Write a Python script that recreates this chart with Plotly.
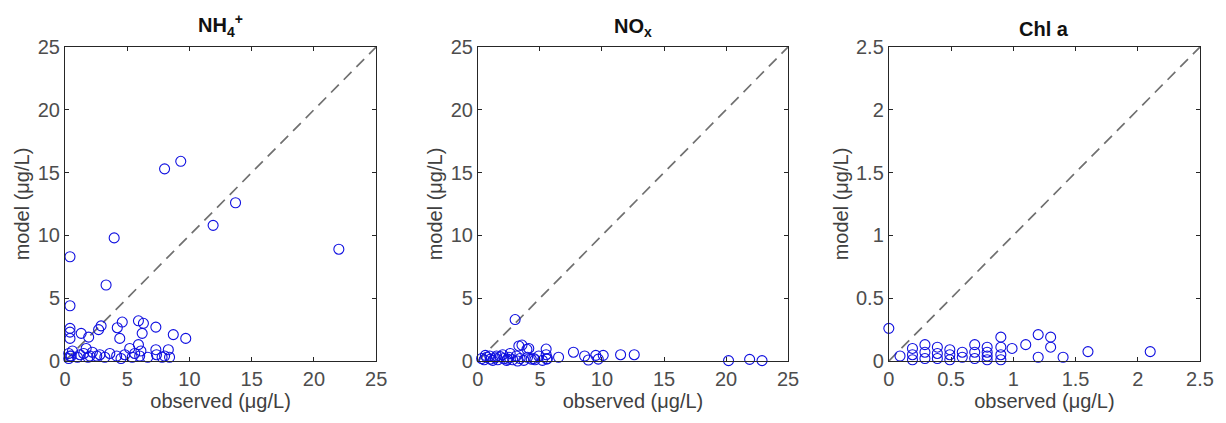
import plotly.graph_objects as go

# ---------------- data ----------------
nh4_obs = [8.0, 9.3, 13.7, 11.9, 3.95, 22.0, 0.4, 3.3, 0.4, 0.4, 0.4, 0.4, 1.3, 1.9, 2.7, 2.9,
           4.2, 4.6, 5.9, 6.3, 6.2, 7.3, 4.4, 8.7, 9.7, 5.9, 5.2, 7.3, 8.3, 0.4, 1.2, 1.85,
           2.55, 3.2, 4.15, 4.8, 5.4, 6.0, 6.65, 7.35, 8.0, 8.4, 0.3, 0.3, 0.5, 0.6, 1.0, 1.5,
           2.0, 2.2, 2.8, 3.6, 4.5, 5.6, 6.1, 7.8, 1.7]
nh4_mod = [15.3, 15.9, 12.6, 10.8, 9.8, 8.9, 8.3, 6.05, 4.4, 2.6, 2.3, 1.8, 2.2, 1.9, 2.5, 2.8,
           2.65, 3.1, 3.2, 3.0, 2.2, 2.7, 1.8, 2.1, 1.8, 1.3, 1.0, 0.9, 0.9, 0.4, 0.5, 0.3,
           0.4, 0.3, 0.4, 0.5, 0.3, 0.4, 0.3, 0.5, 0.4, 0.3, 0.2, 0.6, 0.4, 0.8, 0.3, 0.6,
           0.4, 0.7, 0.5, 0.6, 0.2, 0.6, 0.8, 0.3, 1.0]

nox_obs = [3.0, 3.55, 3.95, 3.3, 4.1, 5.5, 7.7, 8.6, 9.5, 10.1, 11.5, 12.6, 6.5, 5.55, 8.9, 9.7,
           20.2, 21.9, 22.9, 2.6, 2.0, 0.95, 0.3, 0.5, 0.7, 1.0, 1.2, 1.4, 1.6, 1.8, 2.1, 2.3,
           2.5, 2.8, 3.1, 3.4, 3.7, 4.0, 4.3, 4.6, 4.9, 5.2, 5.6, 0.6, 1.5, 2.4, 3.2, 4.5, 5.5]
nox_mod = [3.3, 1.27, 0.93, 1.2, 1.0, 0.95, 0.7, 0.4, 0.45, 0.45, 0.5, 0.5, 0.3, 0.15, 0.08, 0.15,
           0.03, 0.13, 0.03, 0.6, 0.5, 0.4, 0.2, 0.1, 0.3, 0.15, 0.05, 0.25, 0.1, 0.35, 0.2, 0.05,
           0.3, 0.1, 0.4, 0.2, 0.05, 0.3, 0.15, 0.1, 0.4, 0.05, 0.2, 0.45, 0.4, 0.15, 0.0, 0.2, 0.5]

chl_obs = [0.0, 0.09, 0.19, 0.19, 0.19, 0.29, 0.29, 0.29, 0.39, 0.39, 0.39, 0.49, 0.49, 0.49,
           0.59, 0.59, 0.69, 0.69, 0.69, 0.79, 0.79, 0.79, 0.79, 0.9, 0.9, 0.9, 0.9, 0.99, 1.1,
           1.2, 1.2, 1.3, 1.3, 1.4, 1.6, 2.1]
chl_mod = [0.26, 0.04, 0.1, 0.05, 0.01, 0.13, 0.07, 0.02, 0.11, 0.06, 0.02, 0.09, 0.05, 0.01,
           0.07, 0.03, 0.13, 0.07, 0.02, 0.11, 0.07, 0.04, 0.01, 0.19, 0.11, 0.05, 0.01, 0.1, 0.13,
           0.21, 0.03, 0.19, 0.11, 0.03, 0.075, 0.075]

titles = ["<b>NH<sub>4</sub><sup>+</sup></b>", "<b>NO<sub>x</sub></b>", "<b>Chl a</b>"]
limits = [25, 25, 2.5]
tick_vals = [[0, 5, 10, 15, 20, 25], [0, 5, 10, 15, 20, 25], [0, 0.5, 1, 1.5, 2, 2.5]]
tick_text = [["0", "5", "10", "15", "20", "25"], ["0", "5", "10", "15", "20", "25"],
             ["0", "0.5", "1", "1.5", "2", "2.5"]]
x_label = "observed (\u03bcg/L)"
y_label = "model (\u03bcg/L)"

series = [(nh4_obs, nh4_mod), (nox_obs, nox_mod), (chl_obs, chl_mod)]

# ---------------- figure ----------------
W, H = 1226, 423
ml, mr, mt, mb = 65, 23, 47, 62
pw = W - ml - mr
panels_px = [(65, 377), (479, 790), (891, 1203)]
domains = [((a - ml) / pw, (b - ml) / pw) for a, b in panels_px]

FONT = "Liberation Sans, Arial, Helvetica, sans-serif"
FS = 20
fig = go.Figure()

for i, ((xo, yo), lim) in enumerate(zip(series, limits)):
    xa = "x" if i == 0 else f"x{i+1}"
    ya = "y" if i == 0 else f"y{i+1}"
    fig.add_trace(go.Scatter(x=[0, lim], y=[0, lim], mode="lines",
                             line=dict(color="#707070", width=1.7, dash="11px,7px"),
                             xaxis=xa, yaxis=ya, hoverinfo="skip", showlegend=False))
    fig.add_trace(go.Scatter(x=xo, y=yo, mode="markers",
                             marker=dict(symbol="circle-open", size=10, color="#1010e0",
                                         line=dict(width=1.1, color="#1010e0")),
                             cliponaxis=False, xaxis=xa, yaxis=ya, showlegend=False))

layout = dict(
    width=W, height=H,
    margin=dict(l=ml, r=mr, t=mt, b=mb, pad=0),
    paper_bgcolor="white", plot_bgcolor="white",
    font=dict(family=FONT, size=FS, color="#404040"),
    showlegend=False,
)
annotations = []
for i, (lim, (d0, d1)) in enumerate(zip(limits, domains)):
    k = "" if i == 0 else str(i + 1)
    common = dict(showline=True, linecolor="#262626", linewidth=1, mirror="ticks",
                  ticks="inside", ticklen=4, tickwidth=1, tickcolor="#262626",
                  showgrid=False, zeroline=False, range=[0, lim],
                  tickvals=tick_vals[i], ticktext=tick_text[i],
                  tickfont=dict(family=FONT, size=FS, color="#4d4d4d"))
    layout["xaxis" + k] = dict(common, domain=[d0, d1], anchor="y" + k,
                               title=dict(text=x_label, standoff=4,
                                          font=dict(family=FONT, size=FS, color="#404040")))
    layout["yaxis" + k] = dict(common, domain=[0, 1], anchor="x" + k,
                               title=dict(text=y_label, standoff=2,
                                          font=dict(family=FONT, size=FS, color="#404040")))
    annotations.append(dict(text=titles[i], x=(d0 + d1) / 2, y=1, xref="paper", yref="paper",
                            xanchor="center", yanchor="bottom", yshift=5, showarrow=False,
                            font=dict(family=FONT, size=FS, color="#111111")))
layout["annotations"] = annotations
fig.update_layout(**layout)

fig.write_html("out.html")
